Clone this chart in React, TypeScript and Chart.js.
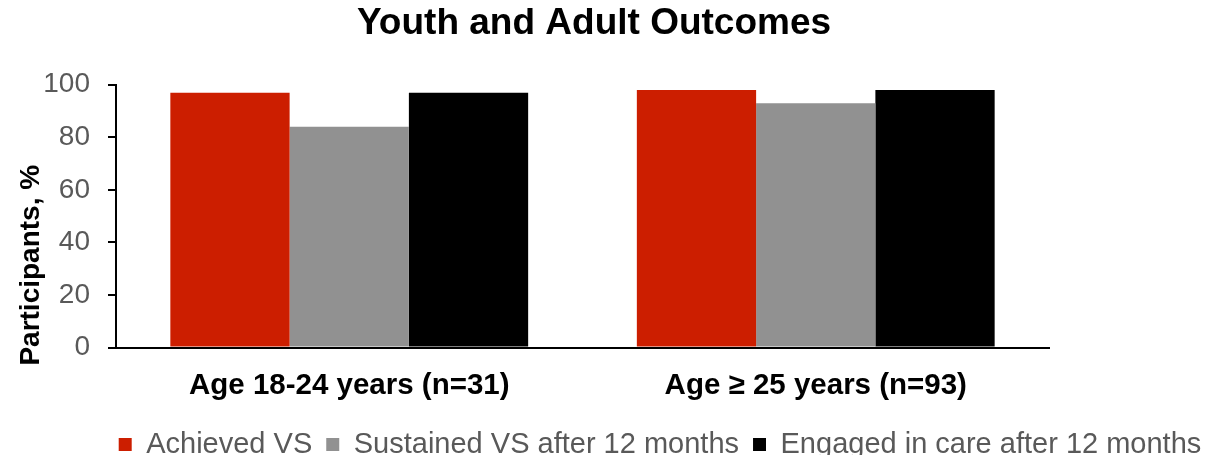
import React, { useEffect, useRef } from "react";
import { Chart, registerables } from "chart.js";

Chart.register(...registerables);

// Chart data
const categories = ["Age 18-24 years (n=31)", "Age \u2265 25 years (n=93)"];
const seriesNames = [
  "Achieved VS",
  "Sustained VS after 12 months",
  "Engaged in care after 12 months",
];
const achievedVS = [97, 98];
const sustainedVS = [84, 93];
const engagedInCare = [97, 98];
const yTickValues = [0, 20, 40, 60, 80, 100];
const yAxisTitle = "Participants, %";

const FONT = "'Liberation Sans', Arial, Helvetica, sans-serif";
const RED = "#CC1E00";
const GRAY = "#919191";
const BLACK = "#000000";
const TEXT_GRAY = "#595959";

// Moves the bottom legend so it sits under the full chart width
const legendOffset = {
  id: "legendOffset",
  afterLayout(chart: any) {
    const lg = chart.legend;
    if (!lg) return;
    const dx = 66;
    const dy = -9;
    lg.left += dx;
    lg.right += dx;
    lg.top += dy;
    lg.bottom += dy;
  },
};

// Rotated y-axis title that starts a little below the axis baseline
const yTitle = {
  id: "yTitle",
  afterDraw(chart: any) {
    const { ctx, chartArea } = chart;
    const yScale = chart.scales.y;
    ctx.save();
    ctx.font = `bold 28px ${FONT}`;
    ctx.fillStyle = "#000";
    ctx.textAlign = "left";
    ctx.textBaseline = "middle";
    ctx.translate(yScale.left + 16, chartArea.bottom + 18);
    ctx.rotate(-Math.PI / 2);
    ctx.fillText(yAxisTitle, 0, 0);
    ctx.restore();
  },
};

export default function App() {
  const canvasRef = useRef<HTMLCanvasElement | null>(null);

  useEffect(() => {
    if (!canvasRef.current) return;
    const chart = new Chart(canvasRef.current, {
      type: "bar",
      data: {
        labels: categories,
        datasets: [
          { label: seriesNames[0], data: achievedVS, backgroundColor: RED, borderWidth: 0 },
          { label: seriesNames[1], data: sustainedVS, backgroundColor: GRAY, borderWidth: 0 },
          { label: seriesNames[2], data: engagedInCare, backgroundColor: BLACK, borderWidth: 0 },
        ],
      },
      options: {
        responsive: false,
        animation: false,
        layout: { padding: { top: 0, left: 7, right: 43, bottom: -23 } },
        datasets: {
          bar: { categoryPercentage: 0.767, barPercentage: 1.0 },
        },
        plugins: {
          title: {
            display: true,
            text: "Youth and Adult Outcomes",
            color: "#000",
            font: { family: FONT, size: 37, weight: "bold", lineHeight: 0.75 },
            padding: { top: 2, bottom: 47 },
          },
          legend: {
            display: true,
            position: "bottom",
            labels: {
              color: TEXT_GRAY,
              font: { family: FONT, size: 29 },
              boxWidth: 13,
              boxHeight: 13,
              padding: 14,
            },
          },
          tooltip: { enabled: false },
        },
        scales: {
          x: {
            grid: { display: false, drawTicks: false },
            border: { display: true, color: "#000", width: 2 },
            ticks: {
              color: "#000",
              font: { family: FONT, size: 29.5, weight: "bold" },
              padding: 21,
              maxRotation: 0,
              autoSkip: false,
            },
          },
          y: {
            min: 0,
            max: 100,
            afterBuildTicks: (scale: any) => {
              scale.ticks = yTickValues.map((v) => ({ value: v }));
            },
            afterFit: (scale: any) => {
              scale.width = 101;
            },
            grid: {
              display: true,
              drawOnChartArea: false,
              drawTicks: true,
              tickLength: 8,
              color: "#000",
              lineWidth: 2,
            },
            border: { display: true, color: "#000", width: 2 },
            ticks: {
              color: TEXT_GRAY,
              font: { family: FONT, size: 28 },
              padding: 18,
            },
            title: { display: false },
          },
          yRight: {
            type: "linear",
            position: "right",
            display: true,
            grid: { display: false, drawTicks: false },
            border: { display: false },
            ticks: { display: false },
            afterFit: (scale: any) => {
              scale.width = 124;
            },
          },
        },
      },
      plugins: [legendOffset, yTitle],
    } as any);
    return () => chart.destroy();
  }, []);

  return (
    <div style={{ width: 1208, height: 447 }}>
      <canvas ref={canvasRef} width={1208} height={447} />
    </div>
  );
}
